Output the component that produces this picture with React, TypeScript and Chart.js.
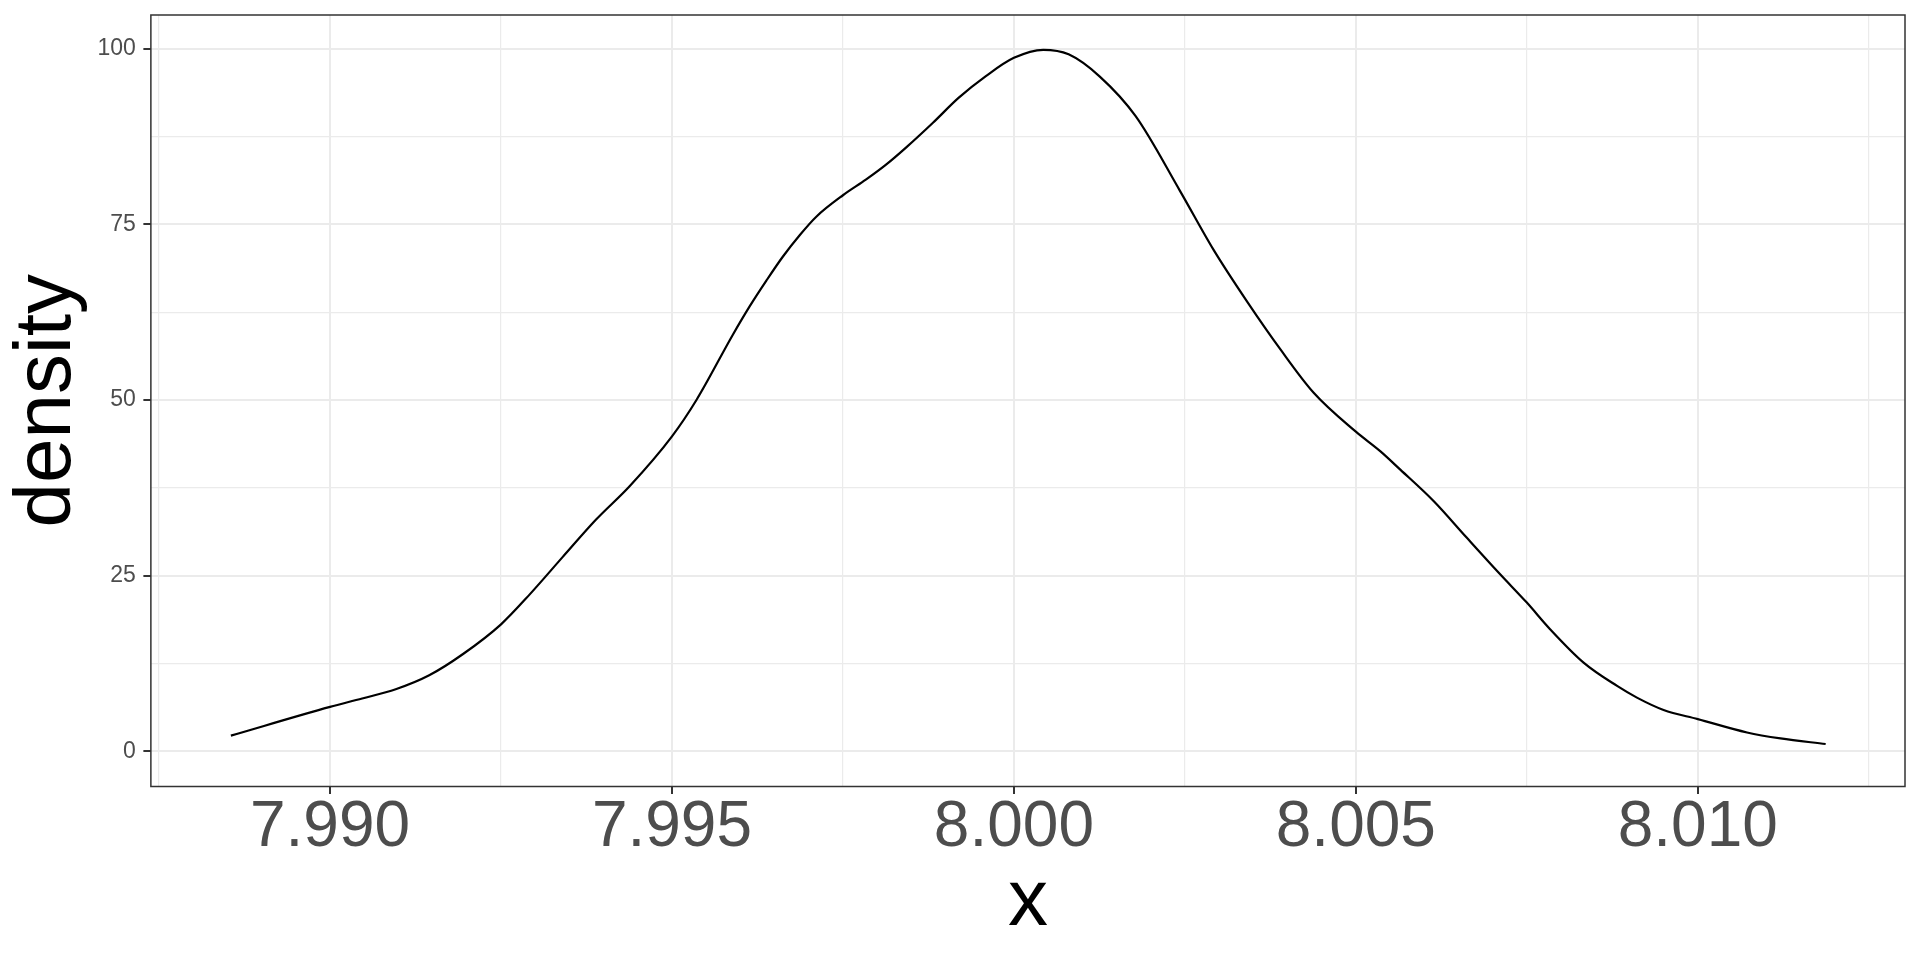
import React, { useEffect, useRef } from "react";
import { Chart, registerables } from "chart.js";

Chart.register(...registerables);

// Density curve
const xValues = [
  7.98855, 7.99, 7.99047, 7.99096, 7.99145, 7.99194, 7.9925, 7.99292, 7.9934, 7.99389,
  7.99438, 7.995, 7.99536, 7.99589, 7.99614, 7.99638, 7.99662, 7.99687, 7.99711, 7.9975,
  7.99784, 7.99813, 7.99843, 7.99882, 7.99919, 7.99959, 8.0, 8.00043, 8.0008, 8.00126,
  8.00178, 8.00243, 8.00292, 8.00341, 8.0039, 8.00438, 8.005, 8.00536, 8.00565, 8.00614,
  8.00662, 8.00711, 8.0075, 8.00784, 8.00833, 8.00882, 8.00911, 8.0095, 8.01, 8.01072,
  8.01121, 8.01187,
];
const densityValues = [
  2.25, 6.34, 7.53, 8.85, 10.84, 13.83, 18.09, 22.35, 27.65, 33.0,
  37.74, 44.84, 50.05, 59.3, 63.4, 67.0, 70.4, 73.5, 76.1, 79.15,
  81.4, 83.5, 86.0, 89.5, 93.0, 96.1, 98.7, 99.85, 99.2, 96.0,
  90.4, 79.74, 71.37, 64.01, 57.17, 51.08, 45.5, 42.7, 40.1, 35.6,
  30.43, 25.21, 21.18, 17.4, 12.64, 9.32, 7.66, 5.9, 4.6, 2.7,
  1.85, 1.06,
];

// Axis ticks
const xMajorTicks = [7.99, 7.995, 8.0, 8.005, 8.01];
const xTickLabels = ["7.990", "7.995", "8.000", "8.005", "8.010"];
const xMinorTicks = [7.9875, 7.9925, 7.9975, 8.0025, 8.0075, 8.0125];
const yMajorTicks = [0, 25, 50, 75, 100];
const yTickLabels = ["0", "25", "50", "75", "100"];
const yMinorTicks = [12.5, 37.5, 62.5, 87.5];

const xRange = [7.98738, 8.01303];
const yRange = [-4.99, 104.8];

const FONT = "'Liberation Sans', Arial, Helvetica, sans-serif";

const isMajor = (v: number, majors: number[]) => majors.some((m) => Math.abs(m - v) < 1e-9);

const panelBorder = {
  id: "panelBorder",
  afterDraw(chart: any) {
    const { ctx, chartArea } = chart;
    const { left, top, right, bottom } = chartArea;
    ctx.save();
    ctx.strokeStyle = "#333333";
    ctx.lineWidth = 1.5;
    ctx.strokeRect(left, top, right - left, bottom - top);
    ctx.restore();
  },
};

export default function App() {
  const canvasRef = useRef<HTMLCanvasElement | null>(null);

  useEffect(() => {
    if (!canvasRef.current) return;
    const data = xValues.map((x, i) => ({ x, y: densityValues[i] }));
    const allX = [...xMajorTicks, ...xMinorTicks].sort((a, b) => a - b);
    const allY = [...yMajorTicks, ...yMinorTicks].sort((a, b) => a - b);

    const chart = new Chart(canvasRef.current, {
      type: "line",
      data: {
        datasets: [
          {
            data,
            borderColor: "#000000",
            borderWidth: 2.2,
            pointRadius: 0,
            fill: false,
            cubicInterpolationMode: "monotone",
          },
        ],
      },
      plugins: [panelBorder],
      options: {
        animation: false,
        responsive: true,
        maintainAspectRatio: false,
        devicePixelRatio: 1,
        layout: { padding: { left: 0, top: 15, right: 15, bottom: 0 } },
        plugins: { legend: { display: false }, tooltip: { enabled: false } },
        scales: {
          x: {
            type: "linear",
            min: xRange[0],
            max: xRange[1],
            afterBuildTicks: (scale: any) => {
              scale.ticks = allX.map((v) => ({ value: v }));
            },
            border: { display: false },
            grid: {
              color: "#EBEBEB",
              lineWidth: (ctx: any) => (isMajor(ctx.tick.value, xMajorTicks) ? 2 : 1.2),
              tickColor: (ctx: any) =>
                isMajor(ctx.tick.value, xMajorTicks) ? "#333333" : "rgba(0,0,0,0)",
              tickWidth: 2,
              tickLength: 7.5,
            },
            ticks: {
              autoSkip: false,
              maxRotation: 0,
              minRotation: 0,
              padding: 2.5,
              color: "#4D4D4D",
              font: { family: FONT, size: 64, lineHeight: 1 },
              callback: (value: any) => {
                const i = xMajorTicks.findIndex((m) => Math.abs(m - Number(value)) < 1e-9);
                return i >= 0 ? xTickLabels[i] : "";
              },
            },
            title: {
              display: true,
              text: "x",
              color: "#000000",
              font: { family: FONT, size: 80, lineHeight: 1 },
              padding: { top: 0, bottom: 17 },
            },
          },
          y: {
            type: "linear",
            min: yRange[0],
            max: yRange[1],
            afterBuildTicks: (scale: any) => {
              scale.ticks = allY.map((v) => ({ value: v }));
            },
            border: { display: false },
            grid: {
              color: "#EBEBEB",
              lineWidth: (ctx: any) => (isMajor(ctx.tick.value, yMajorTicks) ? 2 : 1.2),
              tickColor: (ctx: any) =>
                isMajor(ctx.tick.value, yMajorTicks) ? "#333333" : "rgba(0,0,0,0)",
              tickWidth: 2,
              tickLength: 7.5,
            },
            ticks: {
              autoSkip: false,
              padding: 7.5,
              color: "#4D4D4D",
              font: { family: FONT, size: 23, lineHeight: 0.5 },
              callback: (value: any) => {
                const i = yMajorTicks.findIndex((m) => Math.abs(m - Number(value)) < 1e-9);
                return i >= 0 ? yTickLabels[i] : "";
              },
            },
            title: {
              display: true,
              text: "density",
              color: "#000000",
              font: { family: FONT, size: 80, lineHeight: 1 },
              padding: { top: 8, bottom: 2 },
            },
          },
        },
      },
    } as any);

    return () => chart.destroy();
  }, []);

  return (
    <div
      style={{
        position: "fixed",
        left: 0,
        top: 0,
        width: 1920,
        height: 960,
        background: "#FFFFFF",
      }}
    >
      <canvas ref={canvasRef} />
    </div>
  );
}
